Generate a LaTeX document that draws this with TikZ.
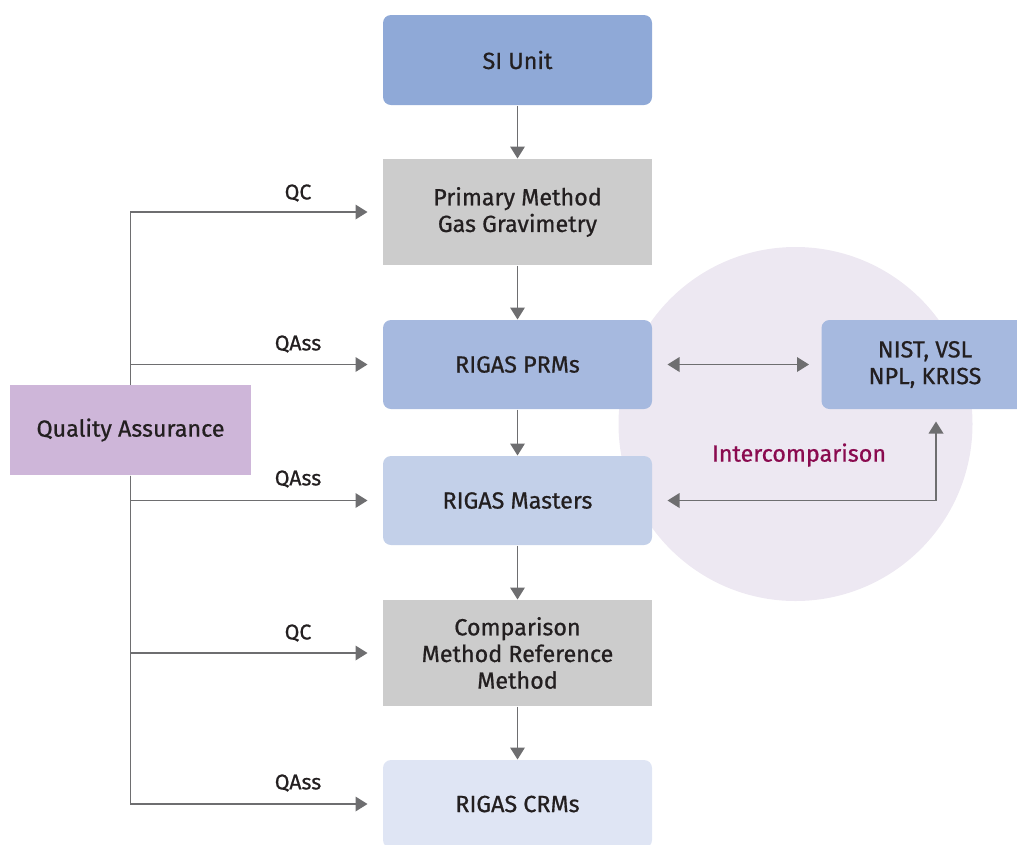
\documentclass[tikz,border=0pt]{standalone}
\usepackage{fontspec}
\setmainfont{Fira Sans}[FakeBold=0.7]
\usetikzlibrary{arrows.meta}

\definecolor{siblue}{HTML}{8FA9D7}
\definecolor{prmblue}{HTML}{A6B9DF}
\definecolor{mastblue}{HTML}{C3D0E9}
\definecolor{crmblue}{HTML}{DFE5F4}
\definecolor{methgray}{HTML}{CCCCCC}
\definecolor{qalilac}{HTML}{CEB6D9}
\definecolor{ringlilac}{HTML}{EDE8F2}
\definecolor{arrgray}{HTML}{6E6E70}
\definecolor{txtdark}{HTML}{231F20}
\definecolor{icwine}{HTML}{8A0A4F}

\tikzset{every picture/.style={line width=0.75pt}}
\tikzset{
box/.style={draw=none, inner sep=0pt, minimum width=201.75pt, align=center, text=txtdark, font=\fontsize{17.5}{20}\selectfont},
rbox/.style={box, rounded corners=6pt},
lbl/.style={text=txtdark, font=\fontsize{16}{18}\selectfont},
arr/.style={draw=arrgray, line width=1pt, -{Triangle[length=9pt,width=11pt]}},
dbl/.style={draw=arrgray, line width=1pt, {Triangle[length=9pt,width=11pt]}-{Triangle[length=9pt,width=11pt]}}
}

\begin{document}
\begin{tikzpicture}[x=0.75pt,y=0.75pt,yscale=-1,xscale=1]
\useasboundingbox (0,0) rectangle (1017,844);

%Shape: Circle
\node[circle, fill=ringlilac, minimum size=265.5pt, inner sep=0pt] (ring) at (795.5,424) {};

%Shape: Rectangle
\node[rbox, fill=siblue, minimum height=67.5pt] (si) at (517.5,60) {SI Unit};
%Shape: Rectangle
\node[box, fill=methgray, minimum height=79.5pt] (prim) at (517.5,212) {Primary Method\\Gas Gravimetry};
%Shape: Rectangle
\node[rbox, fill=prmblue, minimum height=66.75pt] (prm) at (517.5,364.5) {RIGAS PRMs};
%Shape: Rectangle
\node[rbox, fill=mastblue, minimum height=66.75pt] (mast) at (517.5,500.5) {RIGAS Masters};
%Shape: Rectangle
\node[box, fill=methgray, minimum height=79.5pt] (comp) at (517.5,653) {Comparison\\Method Reference\\Method};
%Shape: Rectangle
\node[rbox, fill=crmblue, minimum height=66pt] (crm) at (517.5,804) {RIGAS CRMs};
%Shape: Rectangle
\node[rbox, fill=prmblue, minimum width=155.25pt, minimum height=66.75pt] (nist) at (925,364.5) {NIST, VSL\\NPL, KRISS};
%Shape: Rectangle
\node[box, fill=qalilac, minimum width=180.75pt, minimum height=67.5pt] (qa) at (130.5,430) {Quality Assurance};

%Straight Lines
\draw[arr] (si) -- (prim);
\draw[arr] (prim) -- (prm);
\draw[arr] (prm) -- (mast);
\draw[arr] (mast) -- (comp);
\draw[arr] (comp) -- (crm);

%Straight Lines
\draw[arr, shorten >=11.25pt] (qa.north) |- (prim);
\draw[arr, shorten >=11.25pt] (qa.north) |- (prm);
\draw[arr, shorten >=11.25pt] (qa.south) |- (mast);
\draw[arr, shorten >=11.25pt] (qa.south) |- (comp);
\draw[arr, shorten >=11.25pt] (qa.south) |- (crm);

%Straight Lines
\draw[dbl, shorten <=11.25pt, shorten >=9pt] (prm) -- (nist);
\draw[dbl, shorten <=11.25pt, shorten >=9pt] (mast) -| ([xshift=8.25pt]nist.south);

% Text Node
\node[lbl] (qc1) at (298,193) {QC};
% Text Node
\node[lbl] (qa1) at (298,344) {QAss};
% Text Node
\node[lbl] (qa2) at (298,479) {QAss};
% Text Node
\node[lbl] (qc2) at (298,633) {QC};
% Text Node
\node[lbl] (qa3) at (298,783) {QAss};
% Text Node
\node[text=icwine, font=\fontsize{17.5}{20}\selectfont] (ic) at (799,455) {Intercomparison};

\end{tikzpicture}
\end{document}
